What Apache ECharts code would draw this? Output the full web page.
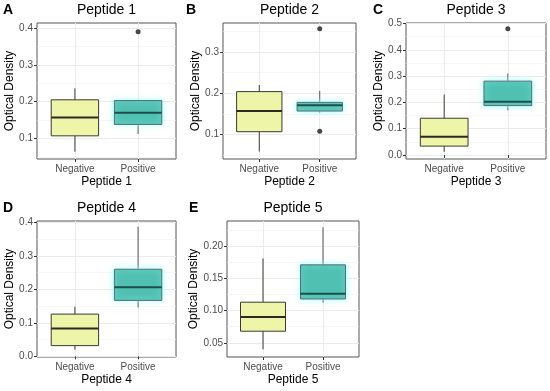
<!DOCTYPE html>
<html><head><meta charset="utf-8">
<script src="https://cdn.jsdelivr.net/npm/echarts@6/dist/echarts.min.js"></script>
<style>html,body{margin:0;padding:0;background:#fff}#c{width:550px;height:391px}</style>
</head><body><div id="c"></div>
<script>
// ---- data ----
const categories = ['Negative', 'Positive'];
const panelTitles = ['Peptide 1', 'Peptide 2', 'Peptide 3', 'Peptide 4', 'Peptide 5'];
const panelLetters = ['A', 'B', 'C', 'D', 'E'];
const yLabel = 'Optical Density';

// [min whisker, Q1, median, Q3, max whisker]
const neg1 = [0.064, 0.107, 0.157, 0.205, 0.236];
const pos1 = [0.112, 0.138, 0.170, 0.203, 0.205];
const out1 = [[2, 0.390]];
const neg2 = [0.059, 0.107, 0.157, 0.204, 0.220];
const pos2 = [0.153, 0.157, 0.171, 0.178, 0.206];
const out2 = [[2, 0.108], [2, 0.356]];
const neg3 = [0.0125, 0.034, 0.070, 0.140, 0.230];
const pos3 = [0.170, 0.188, 0.203, 0.281, 0.310];
const out3 = [[2, 0.480]];
const neg4 = [0.020, 0.032, 0.083, 0.126, 0.148];
const pos4 = [0.146, 0.167, 0.206, 0.260, 0.387];
const out4 = [];
const neg5 = [0.040, 0.068, 0.090, 0.113, 0.181];
const pos5 = [0.112, 0.118, 0.126, 0.171, 0.229];
const out5 = [];

// y ranges and tick labels
const yRange1 = [0.044, 0.414]; const yTicks1 = [0.1, 0.2, 0.3, 0.4];
const yRange2 = [0.041, 0.370]; const yTicks2 = [0.1, 0.2, 0.3];
const yRange3 = [-0.015, 0.502]; const yTicks3 = [0.0, 0.1, 0.2, 0.3, 0.4, 0.5];
const yRange4 = [-0.002, 0.404]; const yTicks4 = [0.0, 0.1, 0.2, 0.3, 0.4];
const yRange5 = [0.028, 0.239]; const yTicks5 = [0.05, 0.10, 0.15, 0.20];
const yDecimals = [1, 1, 1, 1, 2];

// ---- layout ----
const FONT = 'Liberation Sans, Arial, sans-serif';
const grids = [
  {left: 37, top: 23, width: 139, height: 136},
  {left: 223, top: 23, width: 133, height: 136},
  {left: 406, top: 23, width: 140, height: 136},
  {left: 37, top: 221, width: 139, height: 136},
  {left: 227, top: 221, width: 132, height: 136}
];
const yNameGaps = [15, 19, 18, 15, 21];
const letterPos = [[3, 10], [186, 10], [373, 10], [3, 208], [189, 208]];

const panels = [
  {neg: neg1, pos: pos1, out: out1, range: yRange1, ticks: yTicks1},
  {neg: neg2, pos: pos2, out: out2, range: yRange2, ticks: yTicks2},
  {neg: neg3, pos: pos3, out: out3, range: yRange3, ticks: yTicks3},
  {neg: neg4, pos: pos4, out: out4, range: yRange4, ticks: yTicks4},
  {neg: neg5, pos: pos5, out: out5, range: yRange5, ticks: yTicks5}
];

const boxStyles = [
  {fill: '#EEF5A9', stroke: '#3a3a30', whisker: '#3a3a30', median: '#2b2b22', glow: null},
  {fill: '#50C0B2', stroke: '#566f72', whisker: '#555', median: '#1d4f4a', glow: 'rgba(160,255,255,0.95)'}
];

function renderBox(params, api) {
  const x = api.value(0);
  const v = [1, 2, 3, 4, 5].map(k => api.value(k));
  const hw = api.size([0.375, 0])[0];
  const c = v.map(val => api.coord([x, val]));
  const cx = c[0][0];
  const s = boxStyles[params.dataIndex];
  const children = [
    {type: 'line', shape: {x1: cx, y1: c[0][1], x2: cx, y2: c[1][1]}, style: {stroke: s.whisker, lineWidth: 1}},
    {type: 'line', shape: {x1: cx, y1: c[3][1], x2: cx, y2: c[4][1]}, style: {stroke: s.whisker, lineWidth: 1}},
    {type: 'rect', shape: {x: cx - hw, y: c[3][1], width: 2 * hw, height: c[1][1] - c[3][1]},
      style: Object.assign({fill: s.fill, stroke: s.stroke, lineWidth: 1},
        s.glow ? {shadowBlur: 6, shadowColor: s.glow} : {})},
    {type: 'line', shape: {x1: cx - hw, y1: c[2][1], x2: cx + hw, y2: c[2][1]}, style: {stroke: s.median, lineWidth: 2}}
  ];
  return {type: 'group', children};
}

const option = {
  backgroundColor: '#fff',
  animation: false,
  grid: [], xAxis: [], yAxis: [], series: [], graphic: []
};

panels.forEach((p, i) => {
  const g = grids[i];
  option.grid.push(Object.assign({show: true, borderColor: '#555', borderWidth: 1,
    backgroundColor: '#fff', containLabel: false}, g));
  const dec = yDecimals[i];
  const step = p.ticks[1] - p.ticks[0];
  const minors = [];
  for (let k = -1; k < p.ticks.length; k++) {
    const m = +((k >= 0 ? p.ticks[k] : p.ticks[0] - step) + step / 2).toFixed(4);
    if (m > p.range[0] && m < p.range[1]) minors.push(m);
  }
  option.xAxis.push({
    type: 'value', gridIndex: i, min: 0.4, max: 2.6,
    axisLine: {show: false},
    axisTick: {show: true, length: 3, customValues: [1, 2], lineStyle: {color: '#333'}},
    axisLabel: {customValues: [1, 2], formatter: v => categories[Math.round(v) - 1] || '',
      color: '#4d4d4d', fontSize: 10, fontFamily: FONT, margin: 5},
    splitLine: {show: true, lineStyle: {color: '#EBEBEB', width: 1}},
    name: panelTitles[i], nameLocation: 'middle', nameGap: 17,
    nameTextStyle: {color: '#000', fontSize: 12, fontFamily: FONT}
  });
  option.yAxis.push({
    type: 'value', gridIndex: i, min: p.range[0], max: p.range[1],
    axisLine: {show: false},
    axisTick: {show: true, length: 3, customValues: p.ticks, lineStyle: {color: '#333'}},
    axisLabel: {customValues: p.ticks, formatter: v => v.toFixed(dec),
      color: '#4d4d4d', fontSize: 10, fontFamily: FONT, margin: 4},
    splitLine: {show: true, lineStyle: {color: '#EBEBEB', width: 1}},
    name: yLabel, nameLocation: 'middle', nameGap: yNameGaps[i],
    nameTextStyle: {color: '#000', fontSize: 12, fontFamily: FONT}
  });
  option.yAxis.push({
    type: 'value', gridIndex: i, min: p.range[0], max: p.range[1],
    axisLine: {show: false}, axisLabel: {show: false},
    axisTick: {show: false, customValues: minors},
    splitLine: {show: true, lineStyle: {color: '#F2F2F2', width: 0.6}}
  });
  const yIdx = i * 2;
  option.series.push({
    type: 'custom', xAxisIndex: i, yAxisIndex: yIdx, z: 3,
    data: [[1].concat(p.neg), [2].concat(p.pos)],
    encode: {x: 0, y: [1, 2, 3, 4, 5]},
    renderItem: renderBox
  });
  if (p.out.length) option.series.push({
    type: 'scatter', xAxisIndex: i, yAxisIndex: yIdx, z: 5,
    symbolSize: 5, itemStyle: {color: '#1a1a1a'}, data: p.out
  });
  option.graphic.push({type: 'text', x: g.left + g.width / 2, y: letterPos[i][1],
    style: {text: panelTitles[i], font: '14px ' + FONT, fill: '#000', textAlign: 'center', textVerticalAlign: 'middle'}});
  option.graphic.push({type: 'text', x: letterPos[i][0], y: letterPos[i][1],
    style: {text: panelLetters[i], font: 'bold 14px ' + FONT, fill: '#000', textAlign: 'left', textVerticalAlign: 'middle'}});
});

const chart = echarts.init(document.getElementById('c'), null, {renderer: 'canvas'});
chart.setOption(option);
</script>
</body></html>
